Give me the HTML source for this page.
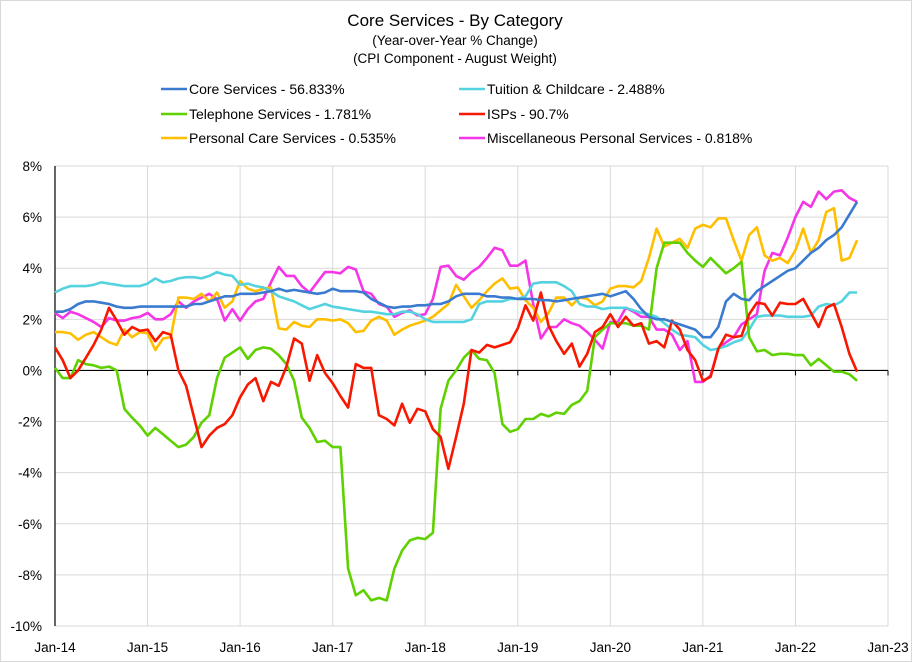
<!DOCTYPE html>
<html><head><meta charset="utf-8"><style>
body{margin:0;background:#fff;}
svg{display:block;font-family:"Liberation Sans",sans-serif;}
</style></head><body>
<svg id="chart" width="912" height="662">
<rect x="0.5" y="0.5" width="911" height="661" fill="#fff" stroke="#d9d9d9"/>
<text x="455" y="26" text-anchor="middle" font-size="17" fill="#000">Core Services  - By Category</text>
<text x="455" y="45" text-anchor="middle" font-size="13.5" fill="#000">(Year-over-Year % Change)</text>
<text x="455" y="63" text-anchor="middle" font-size="13.5" fill="#000">(CPI Component - August Weight)</text>
<g id="legend"></g>
<g id="grid"></g>
<g id="axes"></g>
<g id="series"></g>
</svg>
<script>
const xTickLabels=["Jan-14","Jan-15","Jan-16","Jan-17","Jan-18","Jan-19","Jan-20","Jan-21","Jan-22","Jan-23"];
const yTicks=[8,6,4,2,0,-2,-4,-6,-8,-10];
const seriesNames=["Core Services - 56.833%","Tuition & Childcare - 2.488%","Telephone Services - 1.781%","ISPs - 90.7%","Personal Care Services - 0.535%","Miscellaneous Personal Services - 0.818%"];
const seriesColors=["#3a7bd0","#55d2e0","#5fd000","#f81800","#ffbf00","#f535e6"];
const coreServices=[2.3,2.3,2.4,2.6,2.7,2.7,2.65,2.6,2.5,2.45,2.45,2.5,
2.5,2.5,2.5,2.5,2.5,2.5,2.6,2.6,2.7,2.8,2.9,2.9,
3.0,3.0,3.0,3.05,3.1,3.2,3.1,3.15,3.1,3.05,3.0,3.05,
3.2,3.1,3.1,3.1,3.05,2.8,2.65,2.5,2.45,2.5,2.5,2.55,
2.55,2.6,2.6,2.7,2.9,3.0,3.0,3.0,2.9,2.9,2.85,2.85,
2.8,2.8,2.8,2.75,2.75,2.7,2.75,2.8,2.85,2.9,2.95,3.0,
2.9,3.0,3.1,2.8,2.4,2.1,2.0,2.0,1.9,1.8,1.7,1.6,
1.3,1.3,1.7,2.7,3.0,2.8,2.75,3.1,3.3,3.5,3.7,3.9,
4.0,4.3,4.6,4.8,5.1,5.3,5.6,6.1,6.6];
const tuition=[3.05,3.2,3.3,3.3,3.3,3.35,3.45,3.4,3.35,3.3,3.3,3.3,
3.4,3.6,3.45,3.5,3.6,3.65,3.65,3.6,3.7,3.85,3.75,3.7,
3.35,3.4,3.3,3.25,3.1,2.9,2.8,2.7,2.55,2.4,2.5,2.6,
2.5,2.45,2.4,2.35,2.3,2.3,2.25,2.2,2.2,2.3,2.3,2.2,
2.0,1.9,1.9,1.9,1.9,1.9,2.0,2.6,2.7,2.7,2.7,2.8,
2.8,2.9,3.4,3.45,3.45,3.45,3.3,3.1,2.6,2.5,2.5,2.4,
2.45,2.45,2.45,2.35,2.25,2.2,2.1,1.85,1.6,1.4,1.35,1.3,
1.0,0.8,0.85,0.95,1.1,1.2,1.6,2.1,2.15,2.15,2.15,2.1,
2.1,2.1,2.15,2.5,2.6,2.55,2.7,3.05,3.05];
const telephone=[0.1,-0.3,-0.3,0.4,0.25,0.2,0.1,0.15,0.0,-1.5,-1.85,-2.15,
-2.55,-2.25,-2.5,-2.75,-3.0,-2.9,-2.6,-2.05,-1.75,-0.3,0.5,0.7,
0.9,0.45,0.8,0.9,0.85,0.6,0.25,-0.4,-1.85,-2.25,-2.8,-2.75,
-3.0,-3.0,-7.75,-8.8,-8.6,-9.0,-8.9,-9.0,-7.75,-7.05,-6.65,-6.55,
-6.6,-6.35,-1.5,-0.4,0.0,0.5,0.8,0.45,0.4,-0.1,-2.1,-2.4,
-2.3,-1.9,-1.9,-1.7,-1.8,-1.65,-1.7,-1.35,-1.2,-0.8,1.3,1.6,
1.85,1.85,1.85,1.75,1.75,1.6,4.0,5.0,5.0,5.0,4.6,4.3,
4.05,4.4,4.1,3.8,4.0,4.25,1.3,0.75,0.8,0.6,0.65,0.65,
0.6,0.6,0.2,0.45,0.2,-0.05,-0.05,-0.15,-0.4];
const isps=[0.9,0.4,-0.3,0.0,0.5,1.0,1.6,2.45,1.95,1.4,1.7,1.55,
1.6,1.15,1.5,1.4,0.0,-0.6,-1.8,-3.0,-2.55,-2.25,-2.1,-1.75,
-1.05,-0.55,-0.3,-1.2,-0.45,-0.6,0.15,1.25,1.05,-0.4,0.6,-0.1,
-0.5,-1.0,-1.45,0.25,0.1,0.1,-1.75,-1.9,-2.15,-1.3,-2.05,-1.5,
-1.6,-2.3,-2.6,-3.85,-2.6,-1.3,0.8,0.7,1.0,0.9,1.0,1.1,
1.65,2.55,1.95,3.05,1.75,1.15,0.65,1.05,0.15,0.65,1.5,1.7,
2.2,1.7,2.1,1.75,1.85,1.05,1.15,0.9,1.95,1.6,0.8,0.4,
-0.4,-0.25,0.85,1.4,1.3,1.35,2.2,2.65,2.6,2.15,2.65,2.6,
2.6,2.8,2.25,1.7,2.45,2.6,1.7,0.65,-0.05];
const personalCare=[1.5,1.5,1.45,1.2,1.4,1.5,1.3,1.1,1.0,1.6,1.3,1.5,
1.45,0.8,1.25,1.3,2.85,2.85,2.8,3.0,2.7,3.05,2.45,2.7,
3.5,3.2,3.1,3.2,3.25,1.65,1.6,1.9,1.75,1.7,2.0,2.0,
1.95,2.0,1.85,1.5,1.55,1.95,2.1,1.95,1.4,1.6,1.75,1.85,
1.95,2.1,2.35,2.6,3.35,2.9,2.45,2.75,3.1,3.4,3.6,3.2,
3.25,2.75,2.45,1.9,2.25,2.85,2.85,2.55,2.85,2.8,2.55,2.7,
3.2,3.3,3.3,3.25,3.5,4.4,5.55,4.85,5.0,5.15,4.8,5.55,
5.7,5.6,5.95,5.95,5.1,4.3,5.3,5.6,4.5,4.3,4.4,4.2,
4.7,5.55,4.6,5.1,6.2,6.35,4.3,4.4,5.1];
const miscPersonal=[2.25,2.05,2.3,2.2,2.05,1.9,1.7,2.05,1.95,1.95,2.05,2.1,
2.25,2.0,2.0,2.2,2.7,2.45,2.7,2.85,3.0,2.8,1.95,2.4,
1.95,2.4,2.7,2.8,3.45,4.05,3.7,3.7,3.3,3.05,3.45,3.85,
3.85,3.8,4.05,3.95,3.1,3.0,2.6,2.5,2.1,2.25,2.35,2.15,
2.2,2.8,4.05,4.1,3.7,3.55,3.85,4.05,4.4,4.8,4.7,4.1,
4.1,4.3,2.6,1.25,1.7,1.7,2.0,1.85,1.75,1.5,1.2,0.85,
1.9,1.9,2.45,2.3,2.1,2.1,1.6,1.6,1.4,0.8,1.15,-0.45,
-0.45,-0.2,0.85,1.1,1.3,1.8,2.0,2.2,3.9,4.6,4.5,5.2,
6.0,6.6,6.4,7.0,6.7,7.0,7.05,6.75,6.6];
const allSeries=[coreServices,tuition,telephone,isps,personalCare,miscPersonal];
const seriesKeys=["core-services","tuition-childcare","telephone-services","isps","personal-care-services","misc-personal-services"];
const drawOrder=[5,4,1,2,3,0];

const NS="http://www.w3.org/2000/svg";
const X0=55,X1=888,YT=166,YB=626;
function xScale(m){return X0+(X1-X0)*m/108;}
function yScale(v){return YT+(8-v)*(YB-YT)/18;}
function mk(tag,attrs,parent){const e=document.createElementNS(NS,tag);for(const k in attrs)e.setAttribute(k,attrs[k]);parent.appendChild(e);return e;}

const grid=document.getElementById('grid'),axes=document.getElementById('axes'),ser=document.getElementById('series'),leg=document.getElementById('legend');
yTicks.forEach(v=>{
  const y=yScale(v);
  if(v!==0){const l=mk('line',{x1:X0,x2:X1,y1:y,y2:y,stroke:'#d9d9d9','stroke-width':1},grid);
  
  }
  const t=mk('text',{x:42,y:y+5,'text-anchor':'end','font-size':13.5,fill:'#000'},axes);
  t.textContent=v+'%';
  
  
});
xTickLabels.forEach((lab,i)=>{
  const x=xScale(i*12);
  if(i>0){const l=mk('line',{x1:x,x2:x,y1:YT,y2:YB,stroke:'#d9d9d9','stroke-width':1},grid);
  
  }
  const tk=mk('line',{x1:x,x2:x,y1:yScale(0),y2:yScale(0)+5,stroke:'#000','stroke-width':1},axes);
  
  
  const t=mk('text',{x:x,y:652,'text-anchor':'middle','font-size':13.5,fill:'#000'},axes);
  t.textContent=lab;
  
  
});
const ya=mk('line',{x1:X0,x2:X0,y1:YT,y2:YB,stroke:'#000','stroke-width':1.2},axes);


const za=mk('line',{x1:X0,x2:X1,y1:yScale(0),y2:yScale(0),stroke:'#000','stroke-width':1.2},axes);



drawOrder.forEach(si=>{
  const d=allSeries[si].map((v,i)=>(i?'L':'M')+xScale(i).toFixed(1)+','+yScale(v).toFixed(1)).join('');
  const p=mk('path',{d:d,fill:'none',stroke:seriesColors[si],'stroke-width':2.6,'stroke-linejoin':'round'},ser);
  
  
});

const legX=[161,459],legY=[89,114,138];
seriesNames.forEach((nm,i)=>{
  const col=i%2,row=Math.floor(i/2);
  const g=mk('g',{},leg);
  
  
  mk('line',{x1:legX[col],x2:legX[col]+26,y1:legY[row],y2:legY[row],stroke:seriesColors[i],'stroke-width':2.6},g);
  const t=mk('text',{x:legX[col]+28,y:legY[row]+5,'font-size':14,fill:'#000'},g);
  t.textContent=nm;
});
</script>
</body></html>
